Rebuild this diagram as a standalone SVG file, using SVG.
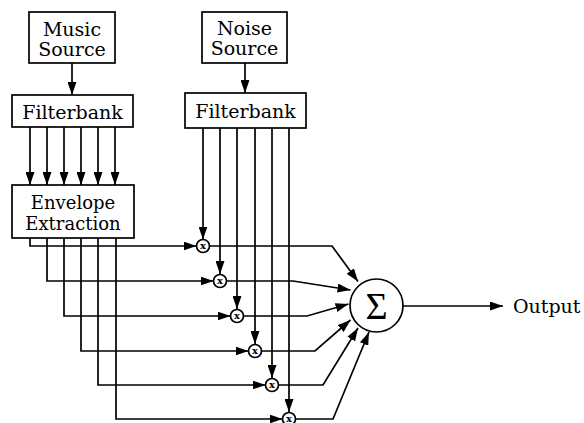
<svg xmlns="http://www.w3.org/2000/svg" width="584" height="423" viewBox="0 0 584 423">
<defs>
<marker id="ah" markerUnits="userSpaceOnUse" markerWidth="13" markerHeight="9" refX="13" refY="4.5" orient="auto">
<path d="M0,0 L13,4.5 L0,9 z" fill="#000"/>
</marker>
<style>
.box{fill:#fff;stroke:#000;stroke-width:1.7}
.t{font-family:"DejaVu Serif","Liberation Serif",serif;font-size:19px;text-anchor:middle;fill:#000}
.t2{font-family:"DejaVu Serif","Liberation Serif",serif;font-size:18px;text-anchor:middle;fill:#000}
.ln{fill:none;stroke:#000;stroke-width:1.7}
.ar{fill:none;stroke:#000;stroke-width:1.7;marker-end:url(#ah)}
.mul{fill:#fff;stroke:#000;stroke-width:1.7}
.mx{font-family:"DejaVu Serif","Liberation Serif",serif;font-size:10px;font-weight:bold;text-anchor:middle;fill:#000}
</style>
</defs>
<rect width="584" height="423" fill="#fff"/>
<g id="connectors">
<path class="ar" d="M72,63 V95"/>
<path class="ar" d="M245,63 V93"/>
<path class="ar" d="M30,127 V185"/>
<path class="ar" d="M47,127 V185"/>
<path class="ar" d="M64,127 V185"/>
<path class="ar" d="M81,127 V185"/>
<path class="ar" d="M98,127 V185"/>
<path class="ar" d="M115,127 V185"/>
<path class="ar" d="M203,128 V239.5"/>
<path class="ar" d="M220,128 V274"/>
<path class="ar" d="M237,128 V309"/>
<path class="ar" d="M255,128 V344"/>
<path class="ar" d="M272,128 V378"/>
<path class="ar" d="M289,128 V412"/>
<path class="ar" d="M30,238 V246 H196.5"/>
<path class="ar" d="M47,238 V281 H213.5"/>
<path class="ar" d="M64,238 V316 H230.5"/>
<path class="ar" d="M81,238 V351 H248.5"/>
<path class="ar" d="M98,238 V385 H265.5"/>
<path class="ar" d="M116,238 V419 H282.5"/>
<path class="ar" d="M209.5,246 H332 L358,281.5"/>
<path class="ar" d="M226.5,281 H293 L350.5,290"/>
<path class="ar" d="M243.5,316 H307 L348.5,304"/>
<path class="ar" d="M261.5,351 H315 L350.5,320"/>
<path class="ar" d="M278.5,385 H323 L358,328"/>
<path class="ar" d="M295.5,419 H333 L369,332"/>
<path class="ar" d="M403,306 H503"/>
</g>
<g id="music-source"><rect class="box" x="29" y="12" width="86" height="51"/><text class="t" x="72" y="36">Music</text><text class="t" x="72" y="56">Source</text></g>
<g id="noise-source"><rect class="box" x="202" y="12" width="85" height="51"/><text class="t" x="244.5" y="35">Noise</text><text class="t" x="244.5" y="55">Source</text></g>
<g id="music-filterbank"><rect class="box" x="12" y="95" width="121" height="32"/><text class="t" x="72.5" y="119">Filterbank</text></g>
<g id="noise-filterbank"><rect class="box" x="185" y="93" width="121" height="35"/><text class="t" x="245.5" y="118">Filterbank</text></g>
<g id="envelope"><rect class="box" x="12" y="185" width="122" height="53"/><text class="t2" x="73" y="209">Envelope</text><text class="t2" x="73" y="230">Extraction</text></g>
<g id="mul1"><circle class="mul" cx="203" cy="246" r="6.5"/><text class="mx" x="203" y="249">x</text></g>
<g id="mul2"><circle class="mul" cx="220" cy="281" r="6.5"/><text class="mx" x="220" y="284">x</text></g>
<g id="mul3"><circle class="mul" cx="237" cy="316" r="6.5"/><text class="mx" x="237" y="319">x</text></g>
<g id="mul4"><circle class="mul" cx="255" cy="351" r="6.5"/><text class="mx" x="255" y="354">x</text></g>
<g id="mul5"><circle class="mul" cx="272" cy="385" r="6.5"/><text class="mx" x="272" y="388">x</text></g>
<g id="mul6"><circle class="mul" cx="289" cy="419" r="6.5"/><text class="mx" x="289" y="422">x</text></g>
<g id="sum"><circle class="mul" cx="376.5" cy="305.5" r="26.5"/><text x="376.5" y="319" style="font-family:'Liberation Serif','DejaVu Serif',serif;font-size:38px;text-anchor:middle">Σ</text></g>
<g id="output"><text class="t" x="513" y="313" style="text-anchor:start">Output</text></g>
</svg>
